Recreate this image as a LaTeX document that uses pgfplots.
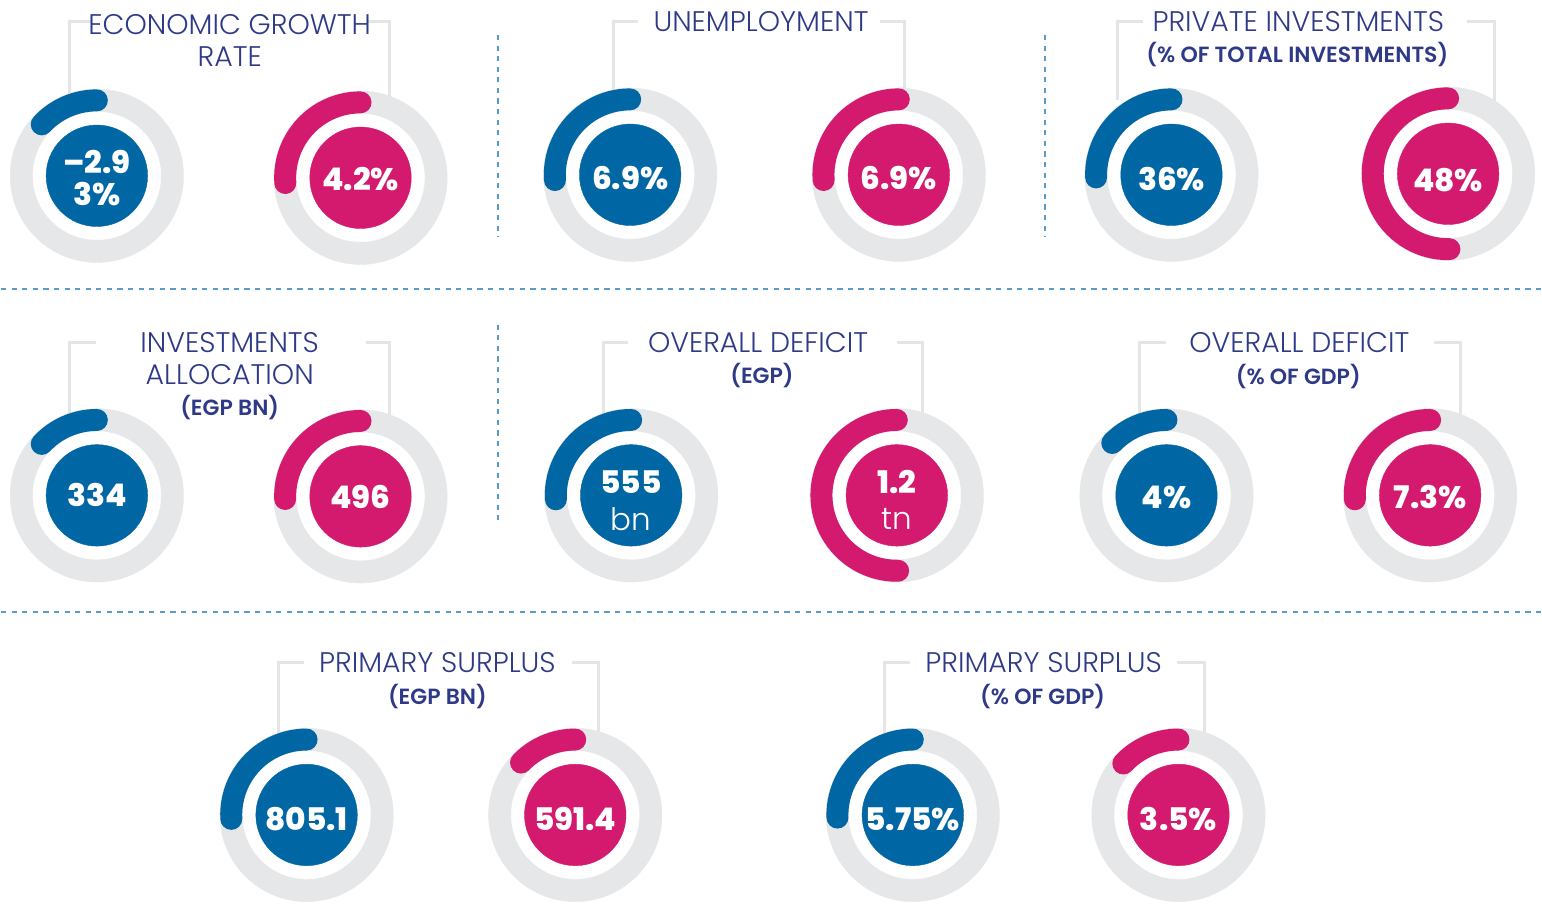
\documentclass[border=0pt]{standalone}
\usepackage{pgfplots}
\pgfplotsset{compat=1.18}
\usepackage{pgfplotstable}
\usepackage{fontspec}
\setmainfont{Poppins}
\newfontfamily\lightfont{Poppins Light}
\newfontfamily\semifont{Poppins SemiBold}
\newfontfamily\heavyfont{Poppins ExtraBold}
\definecolor{gblue}{HTML}{0066A4}
\definecolor{gpink}{HTML}{D31A6E}
\definecolor{ring}{HTML}{E6E7E8}
\definecolor{bracket}{HTML}{E4E5E6}
\definecolor{navy}{HTML}{2E3A87}
\definecolor{dashc}{HTML}{5B9BC9}
\pgfdeclareplotmark{blank}{}
% gauge centres (pixel coords) and arc span in degrees
\pgfplotstableread{
x y span
96 176 47
630 175 94
1172 175 92
96 496 47
631 496 93
1167 496 46
306 816 93
913 816 92
}\bluedata
\pgfplotstableread{
x y span
360 178 94
899 175 94
1449 174 181
360 497 92
897 496 181
1431 496 93
575 816 46
1179 816 47
}\pinkdata
\tikzset{
 ttl/.style={text=navy,inner sep=0pt,font=\lightfont\fontsize{14.2}{15}\selectfont},
 sub/.style={text=navy,inner sep=0pt,font=\semifont\fontsize{11}{12}\selectfont},
 val/.style={text=white,inner sep=0pt,font=\heavyfont\fontsize{15.6}{15.6}\selectfont},
 unit/.style={text=white,inner sep=0pt,font=\lightfont\fontsize{15.5}{15.5}\selectfont},
}
\begin{document}
\begin{tikzpicture}
\begin{axis}[x=0.5pt,y=0.5pt,xmin=0,xmax=1542,ymin=0,ymax=911,y dir=reverse,
  hide axis,clip=false]
\addplot[draw=none] coordinates {(0,0) (1542,911)};
% separators
\addplot[dashc,line width=1pt,dash pattern=on 2.6pt off 2.7pt] coordinates {(0,289) (1542,289)};
\addplot[dashc,line width=1pt,dash pattern=on 2.6pt off 2.7pt] coordinates {(0,613) (1542,613)};
\addplot[dashc,line width=1pt,dash pattern=on 2.6pt off 2.7pt] coordinates {(498,35) (498,237)};
\addplot[dashc,line width=1pt,dash pattern=on 2.6pt off 2.7pt] coordinates {(1045,35) (1045,237)};
\addplot[dashc,line width=1pt,dash pattern=on 2.6pt off 2.7pt] coordinates {(498,325) (498,525)};
% brackets
\addplot[bracket,line width=1.5pt] coordinates {(69,95) (69,22) (90,22)};
\addplot[bracket,line width=1.5pt] coordinates {(367,22) (389,22) (389,100)};
\addplot[bracket,line width=1.5pt] coordinates {(613,95) (613,22) (638,22)};
\addplot[bracket,line width=1.5pt] coordinates {(880,22) (905,22) (905,95)};
\addplot[bracket,line width=1.5pt] coordinates {(1118,100) (1118,22) (1143,22)};
\addplot[bracket,line width=1.5pt] coordinates {(1468,22) (1495,22) (1495,105)};
\addplot[bracket,line width=1.5pt] coordinates {(69,415) (69,343) (95,343)};
\addplot[bracket,line width=1.5pt] coordinates {(365,343) (389,343) (389,418)};
\addplot[bracket,line width=1.5pt] coordinates {(603,415) (603,343) (628,343)};
\addplot[bracket,line width=1.5pt] coordinates {(897,343) (923,343) (923,418)};
\addplot[bracket,line width=1.5pt] coordinates {(1140,415) (1140,343) (1167,343)};
\addplot[bracket,line width=1.5pt] coordinates {(1435,343) (1461,343) (1461,418)};
\addplot[bracket,line width=1.5pt] coordinates {(278,735) (278,663) (303,663)};
\addplot[bracket,line width=1.5pt] coordinates {(572,663) (598,663) (598,738)};
\addplot[bracket,line width=1.5pt] coordinates {(885,735) (885,663) (910,663)};
\addplot[bracket,line width=1.5pt] coordinates {(1178,663) (1205,663) (1205,738)};
% grey rings and white gaps
\addplot[ring,only marks,mark=*,mark size=43.4pt,mark options={fill=ring,draw=ring,line width=0.2pt}] table {\bluedata};
\addplot[ring,only marks,mark=*,mark size=43.4pt,mark options={fill=ring,draw=ring,line width=0.2pt}] table {\pinkdata};
\addplot[white,only marks,mark=*,mark size=32pt,mark options={fill=white,draw=white,line width=0.2pt}] table {\bluedata};
\addplot[white,only marks,mark=*,mark size=32pt,mark options={fill=white,draw=white,line width=0.2pt}] table {\pinkdata};
% arcs
\addplot[only marks,scatter,mark=blank,
  visualization depends on={\thisrow{span}\as\myspan},
  scatter/@pre marker code/.code={\draw[gblue,line width=11pt,line cap=round]
     (0pt,37.75pt) arc[start angle=90,delta angle=\myspan,radius=37.75pt];},
  scatter/@post marker code/.code={}] table {\bluedata};
\addplot[only marks,scatter,mark=blank,
  visualization depends on={\thisrow{span}\as\myspan},
  scatter/@pre marker code/.code={\draw[gpink,line width=11pt,line cap=round]
     (0pt,37.75pt) arc[start angle=90,delta angle=\myspan,radius=37.75pt];},
  scatter/@post marker code/.code={}] table {\pinkdata};
% inner discs
\addplot[gblue,only marks,mark=*,mark size=25.4pt,mark options={fill=gblue,draw=gblue,line width=0.2pt}] table {\bluedata};
\addplot[gpink,only marks,mark=*,mark size=25.4pt,mark options={fill=gpink,draw=gpink,line width=0.2pt}] table {\pinkdata};
% titles
\node[ttl] at (axis cs:229,25) {ECONOMIC GROWTH};
\node[ttl] at (axis cs:229,57) {RATE};
\node[ttl] at (axis cs:761,22) {UNEMPLOYMENT};
\node[ttl] at (axis cs:1299,22) {PRIVATE INVESTMENTS};
\node[sub] at (axis cs:1298,55) {(\% OF TOTAL INVESTMENTS)};
\node[ttl] at (axis cs:229,343) {INVESTMENTS};
\node[ttl] at (axis cs:229,375) {ALLOCATION};
\node[sub] at (axis cs:229,408) {(EGP BN)};
\node[ttl] at (axis cs:758,343) {OVERALL DEFICIT};
\node[sub] at (axis cs:762,376) {(EGP)};
\node[ttl] at (axis cs:1300,343) {OVERALL DEFICIT};
\node[sub] at (axis cs:1299,377) {(\% OF GDP)};
\node[ttl] at (axis cs:437,663) {PRIMARY SURPLUS};
\node[sub] at (axis cs:437,697) {(EGP BN)};
\node[ttl] at (axis cs:1044,663) {PRIMARY SURPLUS};
\node[sub] at (axis cs:1043,697) {(\% OF GDP)};
% value positions
\coordinate (v1a) at (axis cs:96,162);
\coordinate (v1b) at (axis cs:96,194);
\coordinate (v2) at (axis cs:360,179);
\coordinate (v3) at (axis cs:630,178);
\coordinate (v4) at (axis cs:899,178);
\coordinate (v5) at (axis cs:1172,179);
\coordinate (v6) at (axis cs:1449,180);
\coordinate (v7) at (axis cs:96,496);
\coordinate (v8) at (axis cs:360,498);
\coordinate (v9a) at (axis cs:631,483);
\coordinate (v9b) at (axis cs:631,520);
\coordinate (v10a) at (axis cs:897,483);
\coordinate (v10b) at (axis cs:897,520);
\coordinate (v11) at (axis cs:1167,498);
\coordinate (v12) at (axis cs:1431,498);
\coordinate (v13) at (axis cs:306,820);
\coordinate (v14) at (axis cs:575,820);
\coordinate (v15) at (axis cs:913,820);
\coordinate (v16) at (axis cs:1179,820);
\end{axis}
\node[val] at (v1a) {–2.9};
\node[val] at (v1b) {3\%};
\node[val] at (v2) {4.2\%};
\node[val] at (v3) {6.9\%};
\node[val] at (v4) {6.9\%};
\node[val] at (v5) {36\%};
\node[val] at (v6) {48\%};
\node[val] at (v7) {334};
\node[val] at (v8) {496};
\node[val] at (v9a) {555};
\node[unit] at (v9b) {bn};
\node[val] at (v10a) {1.2};
\node[unit] at (v10b) {tn};
\node[val] at (v11) {4\%};
\node[val] at (v12) {7.3\%};
\node[val] at (v13) {805.1};
\node[val] at (v14) {591.4};
\node[val] at (v15) {5.75\%};
\node[val] at (v16) {3.5\%};
\end{tikzpicture}
\end{document}
